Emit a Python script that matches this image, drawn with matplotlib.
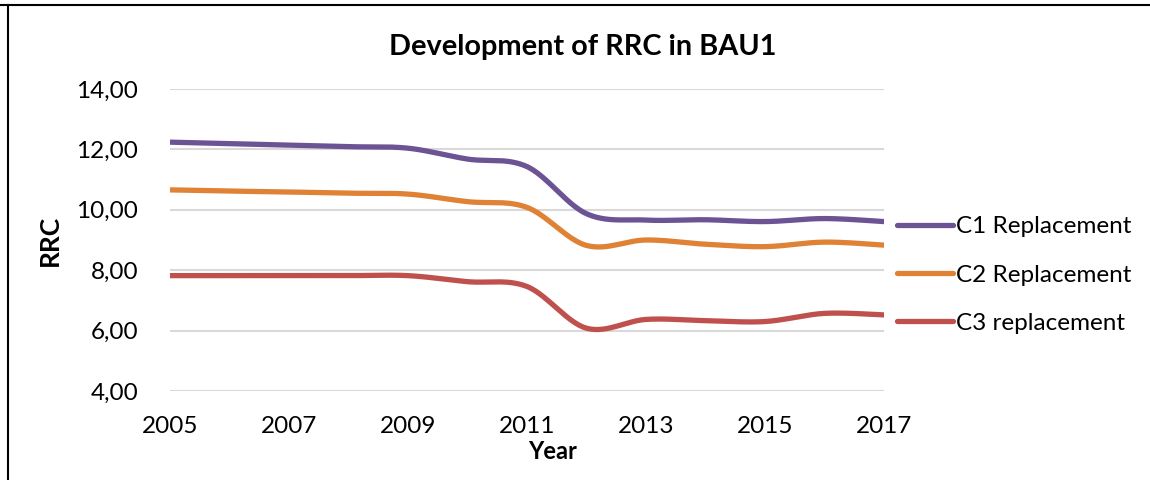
import numpy as np
import matplotlib.pyplot as plt
from matplotlib.lines import Line2D

plt.rcParams['font.family'] = ['Lato', 'DejaVu Sans']

# data
years = [2005, 2006, 2007, 2008, 2009, 2010, 2011, 2012, 2013, 2014, 2015, 2016, 2017]
c1 = [12.24, 12.19, 12.14, 12.09, 12.04, 11.68, 11.43, 9.87, 9.66, 9.67, 9.61, 9.71, 9.61]
c2 = [10.66, 10.62, 10.59, 10.55, 10.52, 10.27, 10.08, 8.82, 9.00, 8.86, 8.78, 8.93, 8.83]
c3 = [7.82, 7.82, 7.82, 7.82, 7.82, 7.62, 7.46, 6.08, 6.37, 6.33, 6.30, 6.57, 6.52]
labels = ["C1 Replacement", "C2 Replacement", "C3 replacement"]
colors = ["#6b5394", "#df8236", "#c0504d"]


# Excel-style smoothed line: cubic bezier through every point
def smooth(x, y, n=30):
    x = np.asarray(x, float)
    y = np.asarray(y, float)
    px, py = [], []
    for i in range(len(x) - 1):
        x0, y0 = x[max(i - 1, 0)], y[max(i - 1, 0)]
        x3, y3 = x[min(i + 2, len(x) - 1)], y[min(i + 2, len(x) - 1)]
        b1x, b1y = x[i] + (x[i + 1] - x0) / 6, y[i] + (y[i + 1] - y0) / 6
        b2x, b2y = x[i + 1] - (x3 - x[i]) / 6, y[i + 1] - (y3 - y[i]) / 6
        t = np.linspace(0, 1, n)
        px.append((1 - t) ** 3 * x[i] + 3 * (1 - t) ** 2 * t * b1x + 3 * (1 - t) * t ** 2 * b2x + t ** 3 * x[i + 1])
        py.append((1 - t) ** 3 * y[i] + 3 * (1 - t) ** 2 * t * b1y + 3 * (1 - t) * t ** 2 * b2y + t ** 3 * y[i + 1])
    return np.concatenate(px), np.concatenate(py)


fig = plt.figure(figsize=(11.5, 4.8), dpi=100)
ax = fig.add_axes([170 / 1150, 89 / 480, 714 / 1150, 302 / 480])

for vals, lab, col in zip([c1, c2, c3], labels, colors):
    sx, sy = smooth(years, vals)
    ax.plot(sx, sy, color=col, lw=3.8, label=lab, solid_capstyle='round')

ax.set_xlim(2005, 2017)
ax.set_ylim(4, 14)
ax.set_xticks(years[::2])
ax.set_yticks([4, 6, 8, 10, 12, 14])
ax.set_yticklabels(["4,00", "6,00", "8,00", "10,00", "12,00", "14,00"])
ax.yaxis.grid(True, color="#d9d9d9", lw=1.5)
ax.set_axisbelow(True)
for s in ax.spines.values():
    s.set_visible(False)
ax.tick_params(length=0, labelsize=17.5, colors="black")
ax.tick_params(axis='y', pad=23)
ax.tick_params(axis='x', pad=18)

# title is centred on the whole chart area, not on the plot area
fig.text(583 / 1150, 1 - 47 / 480, "Development of RRC in BAU1", fontsize=20.8,
         fontweight='bold', ha='center', va='center')
ax.set_xlabel("Year", fontsize=17, fontweight='bold')
ax.xaxis.set_label_coords(0.536, -0.163)
ax.set_ylabel("RRC", fontsize=19, fontweight='bold', labelpad=10)

ax.legend(loc='center left', bbox_to_anchor=(1.018, 0.384), frameon=False, fontsize=17.5,
          handlelength=2.3, handletextpad=0.15, labelspacing=1.12, borderpad=0,
          borderaxespad=0)

# page frame lines around the figure
fig.add_artist(Line2D([0, 1], [1 - 5 / 480, 1 - 5 / 480], color="black", lw=1.5))
fig.add_artist(Line2D([8 / 1150, 8 / 1150], [0, 1 - 5 / 480], color="black", lw=1.5))

fig.savefig("out.png", dpi=100)
